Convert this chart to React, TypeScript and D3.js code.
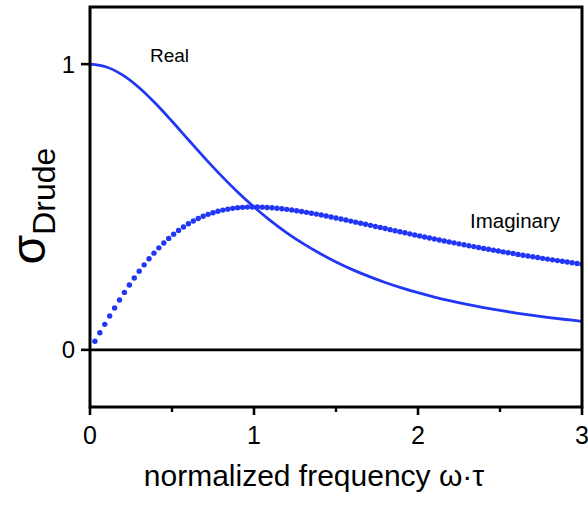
import React from "react";
import * as d3 from "d3";

const realX = [0, 0.1, 0.2, 0.3, 0.4, 0.5, 0.6, 0.7, 0.8, 0.9, 1.0, 1.1, 1.2, 1.3, 1.4, 1.5, 1.6, 1.7, 1.8, 1.9, 2.0, 2.1, 2.2, 2.3, 2.4, 2.5, 2.6, 2.7, 2.8, 2.9, 3.0];
const realY = [1, 0.9901, 0.9615, 0.9174, 0.8621, 0.8, 0.7353, 0.6711, 0.6098, 0.5525, 0.5, 0.4525, 0.4098, 0.3717, 0.3378, 0.3077, 0.2809, 0.2571, 0.2358, 0.2169, 0.2, 0.1848, 0.1712, 0.159, 0.1479, 0.1379, 0.1289, 0.1206, 0.1131, 0.1063, 0.1];

const imagStep = 0.03;
const imagY = [
  0.03, 0.0598, 0.0893, 0.1183, 0.1467, 0.1743, 0.2011, 0.2269, 0.2517, 0.2752,
  0.2976, 0.3187, 0.3385, 0.357, 0.3742, 0.3901, 0.4047, 0.4181, 0.4302, 0.4412,
  0.451, 0.4597, 0.4674, 0.4742, 0.48, 0.485, 0.4891, 0.4925, 0.4952, 0.4972,
  0.4987, 0.4996, 0.5, 0.4999, 0.4994, 0.4985, 0.4973, 0.4957, 0.4939, 0.4918,
  0.4895, 0.4869, 0.4842, 0.4813, 0.4783, 0.4751, 0.4719, 0.4685, 0.4651, 0.4615,
  0.458, 0.4543, 0.4507, 0.447, 0.4433, 0.4395, 0.4358, 0.432, 0.4283, 0.4245,
  0.4208, 0.4171, 0.4134, 0.4097, 0.406, 0.4024, 0.3988, 0.3952, 0.3917, 0.3882,
  0.3847, 0.3812, 0.3778, 0.3745, 0.3711, 0.3678, 0.3646, 0.3614, 0.3582, 0.355,
  0.3519, 0.3489, 0.3458, 0.3428, 0.3399, 0.337, 0.3341, 0.3313, 0.3285, 0.3257,
  0.323, 0.3203, 0.3176, 0.315, 0.3124, 0.3099, 0.3073, 0.3049, 0.3024, 0.3
];
const imagX = imagY.map((_, i) => +((i + 1) * imagStep).toFixed(2));

const xMajorTicks = [0, 1, 2, 3];
const xMinorTicks = [0.5, 1.5, 2.5];
const yTicks = [0, 1];

const BLUE = "#2137f5";
const FONT = "Arial, 'Liberation Sans', Helvetica, sans-serif";

export default function App() {
  const W = 588, H = 505;
  const left = 90, right = 582, top = 7, bottom = 407;
  const x = d3.scaleLinear().domain([0, 3]).range([left, right]);
  const y = d3.scaleLinear().domain([-0.2, 1.2]).range([bottom, top]);

  const realPts = realX.map((v, i) => [v, realY[i]] as [number, number]);
  const line = d3
    .line<[number, number]>()
    .x((d) => x(d[0]))
    .y((d) => y(d[1]))
    .curve(d3.curveCatmullRom);

  return (
    <svg width={W} height={H} style={{ position: "absolute", left: 0, top: 0 }} fontFamily={FONT}>
      <rect x={0} y={0} width={W} height={H} fill="#fff" />
      <defs>
        <clipPath id="plot">
          <rect x={left} y={top} width={right - left} height={bottom - top} />
        </clipPath>
      </defs>
      {/* zero line */}
      <line x1={left} x2={right} y1={y(0)} y2={y(0)} stroke="#000" strokeWidth={2.6} />
      <g clipPath="url(#plot)">
        <path d={line(realPts) || ""} fill="none" stroke={BLUE} strokeWidth={2.8} />
        {imagX.map((v, i) => (
          <circle key={i} cx={x(v)} cy={y(imagY[i])} r={2.7} fill={BLUE} />
        ))}
      </g>
      {/* frame */}
      <rect x={left} y={top} width={right - left} height={bottom - top} fill="none" stroke="#000" strokeWidth={3} />
      {/* y ticks */}
      {yTicks.map((t) => (
        <g key={"y" + t}>
          <line x1={left - 9} x2={left} y1={y(t)} y2={y(t)} stroke="#000" strokeWidth={2.6} />
          <text x={left - 15} y={y(t)} dy="0.36em" textAnchor="end" fontSize={24}>
            {t}
          </text>
        </g>
      ))}
      {/* x ticks */}
      {xMajorTicks.map((t) => (
        <g key={"x" + t}>
          <line x1={x(t)} x2={x(t)} y1={bottom} y2={bottom + 8} stroke="#000" strokeWidth={2.6} />
          <text x={x(t)} y={bottom + 37} textAnchor="middle" fontSize={25}>
            {t}
          </text>
        </g>
      ))}
      {xMinorTicks.map((t) => (
        <line key={"m" + t} x1={x(t)} x2={x(t)} y1={bottom} y2={bottom + 5} stroke="#000" strokeWidth={2.4} />
      ))}
      {/* labels */}
      <text x={150} y={62} fontSize={19}>Real</text>
      <text x={470} y={228} fontSize={20.5}>Imaginary</text>
      <text x={314} y={486} textAnchor="middle" fontSize={30}>
        normalized frequency ω·τ
      </text>
      <text transform="translate(45,206) rotate(-90)" textAnchor="middle">
        <tspan fontSize={48}>σ</tspan>
        <tspan fontSize={32} dy={10}>Drude</tspan>
      </text>
    </svg>
  );
}
